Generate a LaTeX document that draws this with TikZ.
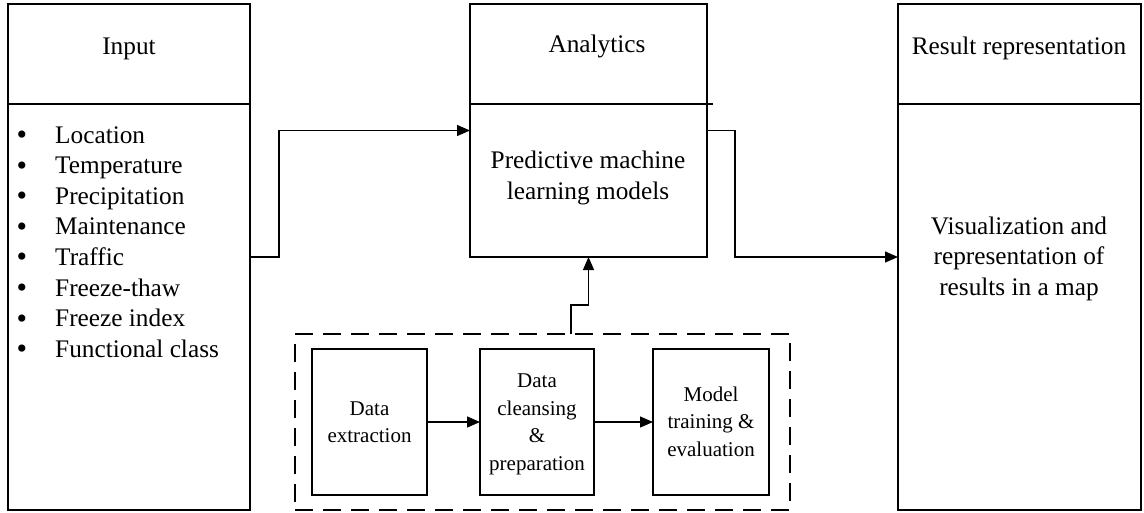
\documentclass[tikz,border=0pt]{standalone}
\usepackage{fontspec}
\setmainfont{Liberation Serif}
\usetikzlibrary{arrows.meta,calc}
\begin{document}
\begin{tikzpicture}[x=1pt,y=-1pt,
  every node/.style={font=\fontsize{25.3}{30}\selectfont},
  frame/.style={draw, line width=1.2pt, inner sep=0pt, outer sep=0pt},
  dashframe/.style={frame, dash pattern=on 18pt off 10pt},
  rule/.style={line width=1.2pt},
  arr/.style={line width=1.2pt, -{Triangle[length=13pt,width=11pt]}},
  txt/.style={anchor=base, inner sep=0pt},
  small/.style={txt, font=\fontsize{21}{25}\selectfont},
  bullet/.style={txt, font=\fontsize{30}{30}\selectfont},
]
\useasboundingbox (0,0) rectangle (1144,512);

% main columns
\node[frame, minimum width=242pt, minimum height=506pt] (in) at (129,257) {};
\node[frame, minimum width=237pt, minimum height=253pt] (an) at (588.5,130.5) {};
\node[frame, minimum width=243pt, minimum height=506pt] (res) at (1019.5,257) {};

% header rules
\draw[rule] (in.west |- 0,104) -- (in.east |- 0,104);
\draw[rule] (an.west |- 0,104) -- ($(an.east |- 0,104)+(6,0)$);
\draw[rule] (res.west |- 0,104) -- (res.east |- 0,104);

% headers
\node[txt] (inT) at (129,54) {Input};
\node[txt] (anT) at (597,52) {Analytics};
\node[txt] (resT) at (1019,54) {Result representation};

% input list
\foreach \t [count=\i] in {Location,Temperature,Precipitation,Maintenance,Traffic,Freeze-thaw,Freeze index,Functional class}{
  \node[bullet] (b\i) at (22,{144.5+(\i-1)*30.6}) {•};
  \node[txt, anchor=base west] (l\i) at (55,{143+(\i-1)*30.6}) {\t};
}

% analytics text
\node[txt] (p1) at (588,168) {Predictive machine};
\node[txt] (p2) at (588,199) {learning models};

% result text
\node[txt] (r1) at (1019,234) {Visualization and};
\node[txt] (r2) at (1019,264) {representation of};
\node[txt] (r3) at (1019,295) {results in a map};

% data pipeline
\node[dashframe, minimum width=495pt, minimum height=176pt] (pipe) at (542.5,422) {};
\node[frame, minimum width=115pt, minimum height=146pt] (ext) at (369.5,422) {};
\node[frame, minimum width=114pt, minimum height=146pt] (cl) at (537,422) {};
\node[frame, minimum width=116pt, minimum height=146pt] (mod) at (711,422) {};

\node[small] (e1) at (369.5,415) {Data};
\node[small] (e2) at (369.5,442) {extraction};

\node[small] (c1) at (537,387) {Data};
\node[small] (c2) at (537,415) {cleansing};
\node[small] (c3) at (537,442) {\&};
\node[small] (c4) at (537,470) {preparation};

\node[small] (m1) at (711,401) {Model};
\node[small] (m2) at (711,428) {training \&};
\node[small] (m3) at (711,456) {evaluation};

% connectors
\draw[arr] (in.east) -- ++(29,0) |- (an.west);
\draw[arr] (an.east) -- ++(28,0) |- (res.west);
\coordinate (up) at (571,334);
\draw[arr] (up) -- ++(0,-29) -| (an.south);
\draw[arr] (ext.east) -- (cl.west);
\draw[arr] (cl.east) -- (mod.west);
\end{tikzpicture}
\end{document}
